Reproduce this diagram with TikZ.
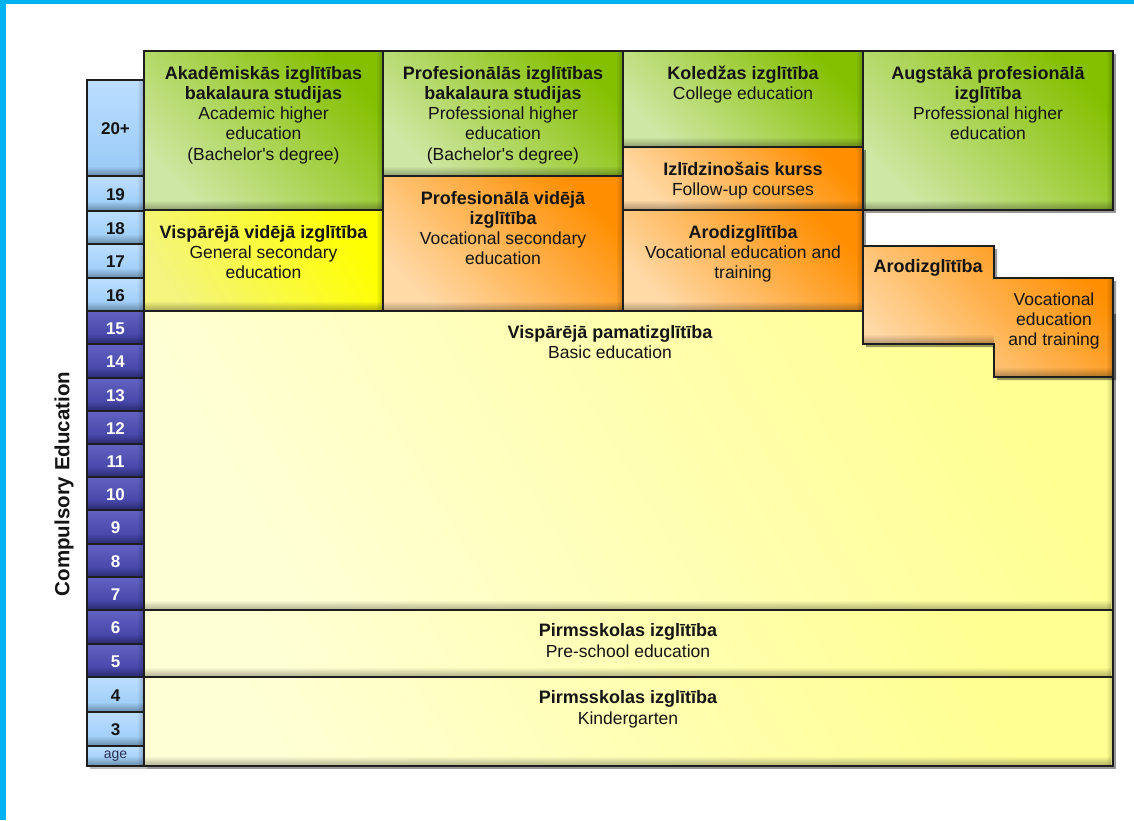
\documentclass[tikz,border=0pt]{standalone}
\usepackage{fontspec}
\setmainfont{Liberation Sans}
\usetikzlibrary{shadows,fadings}
\definecolor{cyanb}{HTML}{00B2F2}
\definecolor{grdark}{HTML}{84C000}
\definecolor{grlight}{HTML}{CFE7A4}
\definecolor{ordark}{HTML}{FF8E00}
\definecolor{orlight}{HTML}{FFD9A6}
\definecolor{ylbright}{HTML}{FFFF00}
\definecolor{yllight}{HTML}{F4F47E}
\definecolor{paledark}{HTML}{FFFF92}
\definecolor{palelight}{HTML}{FFFFD6}
\definecolor{ltbtop}{HTML}{BCDEFF}
\definecolor{ltbbot}{HTML}{98CAF6}
\definecolor{dkbtop}{HTML}{6262C2}
\definecolor{dkbbot}{HTML}{3E3EA2}
\definecolor{txt}{HTML}{141414}
\definecolor{edge}{HTML}{1E1E1E}
\definecolor{agegray}{HTML}{2A3050}
\newcommand\bt[1]{{\fontsize{18}{20.3}\selectfont\bfseries #1}}
\newcommand\apos{\XeTeXglyph\XeTeXcharglyph"27\relax}
\newcommand\bevel[4]{%
  \fill[black,opacity=.32,path fading=north] (#1,#4-10) rectangle (#3,#4);
  \fill[black,opacity=.22,path fading=west] (#3-7,#2) rectangle (#3,#4);}
\newcommand\ebox[5]{%
  \path[#5] (#1,#2) rectangle (#3,#4);
  \bevel{#1}{#2}{#3}{#4}
  \draw[boxline] (#1,#2) rectangle (#3,#4);}
\newcommand\agecell[5]{%
  \path[#4cell] (87,#1) rectangle (144,#2);
  \bevel{87}{#1}{144}{#2}
  \draw[boxline] (87,#1) rectangle (144,#2);
  \node[#4txt] (#5) at (115.5,{(#1+#2)/2+1}) {#3};}
\tikzset{
  boxline/.style={draw=edge, line width=1.4pt},
  shad/.style={drop shadow={shadow xshift=3pt, shadow yshift=-3pt, opacity=.4, fill=black}},
  greenfill/.style={shad, top color=grdark, bottom color=grlight, shading angle=-45},
  orangefill/.style={shad, top color=ordark, bottom color=orlight, shading angle=-45},
  yellowfill/.style={shad, top color=ylbright, bottom color=yllight, shading angle=-60},
  palefill/.style={shad, top color=paledark, bottom color=palelight, shading angle=-60},
  lightcell/.style={top color=ltbtop, bottom color=ltbbot},
  darkcell/.style={top color=dkbtop, bottom color=dkbbot},
  lighttxt/.style={font=\fontsize{17}{17}\selectfont\bfseries, text=txt, inner sep=0pt},
  darktxt/.style={font=\fontsize{17}{17}\selectfont\bfseries, text=white, inner sep=0pt},
  agetxt/.style={font=\fontsize{14}{14}\selectfont, text=agegray, inner sep=0pt},
  lab/.style={align=center, inner sep=0pt, anchor=base, text=txt,
    font=\fontsize{17.5}{20.3}\selectfont},
}
\begin{document}
\begin{tikzpicture}[x=1pt,y=-1pt]
\useasboundingbox (0,0) rectangle (1134,820);
\fill[white] (0,0) rectangle (1134,820);
\fill[cyanb] (0,0) rectangle (1134,4);
\fill[cyanb] (0,0) rectangle (6,820);

% age column
\fill[black,opacity=.25] (90,83) rectangle (147,769);
\agecell{80}{176}{20+}{light}{a20}
\agecell{176}{211}{19}{light}{a19}
\agecell{211}{244}{18}{light}{a18}
\agecell{244}{278}{17}{light}{a17}
\agecell{278}{311}{16}{light}{a16}
\agecell{311}{344}{15}{dark}{a15}
\agecell{344}{378}{14}{dark}{a14}
\agecell{378}{411}{13}{dark}{a13}
\agecell{411}{444}{12}{dark}{a12}
\agecell{444}{477}{11}{dark}{a11}
\agecell{477}{510}{10}{dark}{a10}
\agecell{510}{544}{9}{dark}{a9}
\agecell{544}{577}{8}{dark}{a8}
\agecell{577}{610}{7}{dark}{a7}
\agecell{610}{644}{6}{dark}{a6}
\agecell{644}{677}{5}{dark}{a5}
\agecell{677}{712}{4}{light}{a4}
\agecell{712}{746}{3}{light}{a3}
\path[lightcell] (87,746) rectangle (144,766);
\bevel{87}{746}{144}{766}
\draw[boxline] (87,746) rectangle (144,766);
\node[agetxt] (age) at (115.5,756) {age};

\node[rotate=90, font=\fontsize{20.5}{20.5}\selectfont\bfseries, text=txt, inner sep=0pt] (comp) at (64,484) {Compulsory Education};

% top row
\ebox{144}{51}{383}{210}{greenfill}
\ebox{383}{51}{623}{176}{greenfill}
\ebox{623}{51}{863}{147}{greenfill}
\ebox{863}{51}{1113}{210}{greenfill}
% second row
\ebox{144}{210}{383}{311}{yellowfill}
\ebox{383}{176}{623}{311}{orangefill}
\ebox{623}{147}{863}{210}{orangefill}
\ebox{623}{210}{863}{311}{orangefill}
% basic education
\ebox{144}{311}{1113}{610}{palefill}
% stepped vocational box
\path[orangefill] (863,246) -- (994,246) -- (994,278) -- (1113,278) -- (1113,377) -- (994,377) -- (994,344) -- (863,344) -- cycle;
\fill[black,opacity=.32,path fading=north] (863,334) rectangle (994,344);
\fill[black,opacity=.32,path fading=north] (994,367) rectangle (1113,377);
\fill[black,opacity=.22,path fading=west] (1106,278) rectangle (1113,377);
\draw[boxline] (863,246) -- (994,246) -- (994,278) -- (1113,278) -- (1113,377) -- (994,377) -- (994,344) -- (863,344) -- cycle;
% pre-school rows
\ebox{144}{610}{1113}{677}{palefill}
\ebox{144}{677}{1113}{766}{palefill}

% texts (anchor base = baseline of last line)
\node[lab] (akadT) at (263.5,160.2) {\bt{Akadēmiskās izglītības}\\\bt{bakalaura studijas}\\Academic higher\\education\\(Bachelor\apos s degree)};
\node[lab] (profT) at (503,160.2) {\bt{Profesionālās izglītības}\\\bt{bakalaura studijas}\\Professional higher\\education\\(Bachelor\apos s degree)};
\node[lab] (koledT) at (743,99.3) {\bt{Koledžas izglītība}\\College education};
\node[lab] (augstT) at (988,139.9) {\bt{Augstākā profesionālā}\\\bt{izglītība}\\Professional higher\\education};
\node[lab] (izlT) at (743,195.3) {\bt{Izlīdzinošais kurss}\\Follow-up courses};
\node[lab] (profvT) at (503,264.9) {\bt{Profesionālā vidējā}\\\bt{izglītība}\\Vocational secondary\\education};
\node[lab] (arodT) at (743,278.6) {\bt{Arodizglītība}\\Vocational education and\\training};
\node[lab] (visvT) at (263.5,278.6) {\bt{Vispārējā vidējā izglītība}\\General secondary\\education};
\node[lab] (arod2T) at (928,272) {\bt{Arodizglītība}};
\node[lab] (arod2V) at (1054,345.6) {Vocational\\education\\and training};
\node[lab] (basicT) at (610,358.3) {\bt{Vispārējā pamatizglītība}\\Basic education};
\node[lab] (preT) at (628,657) {\bt{Pirmsskolas izglītība}\\Pre-school education};
\node[lab] (kinderT) at (628,724) {\bt{Pirmsskolas izglītība}\\Kindergarten};
\end{tikzpicture}
\end{document}
